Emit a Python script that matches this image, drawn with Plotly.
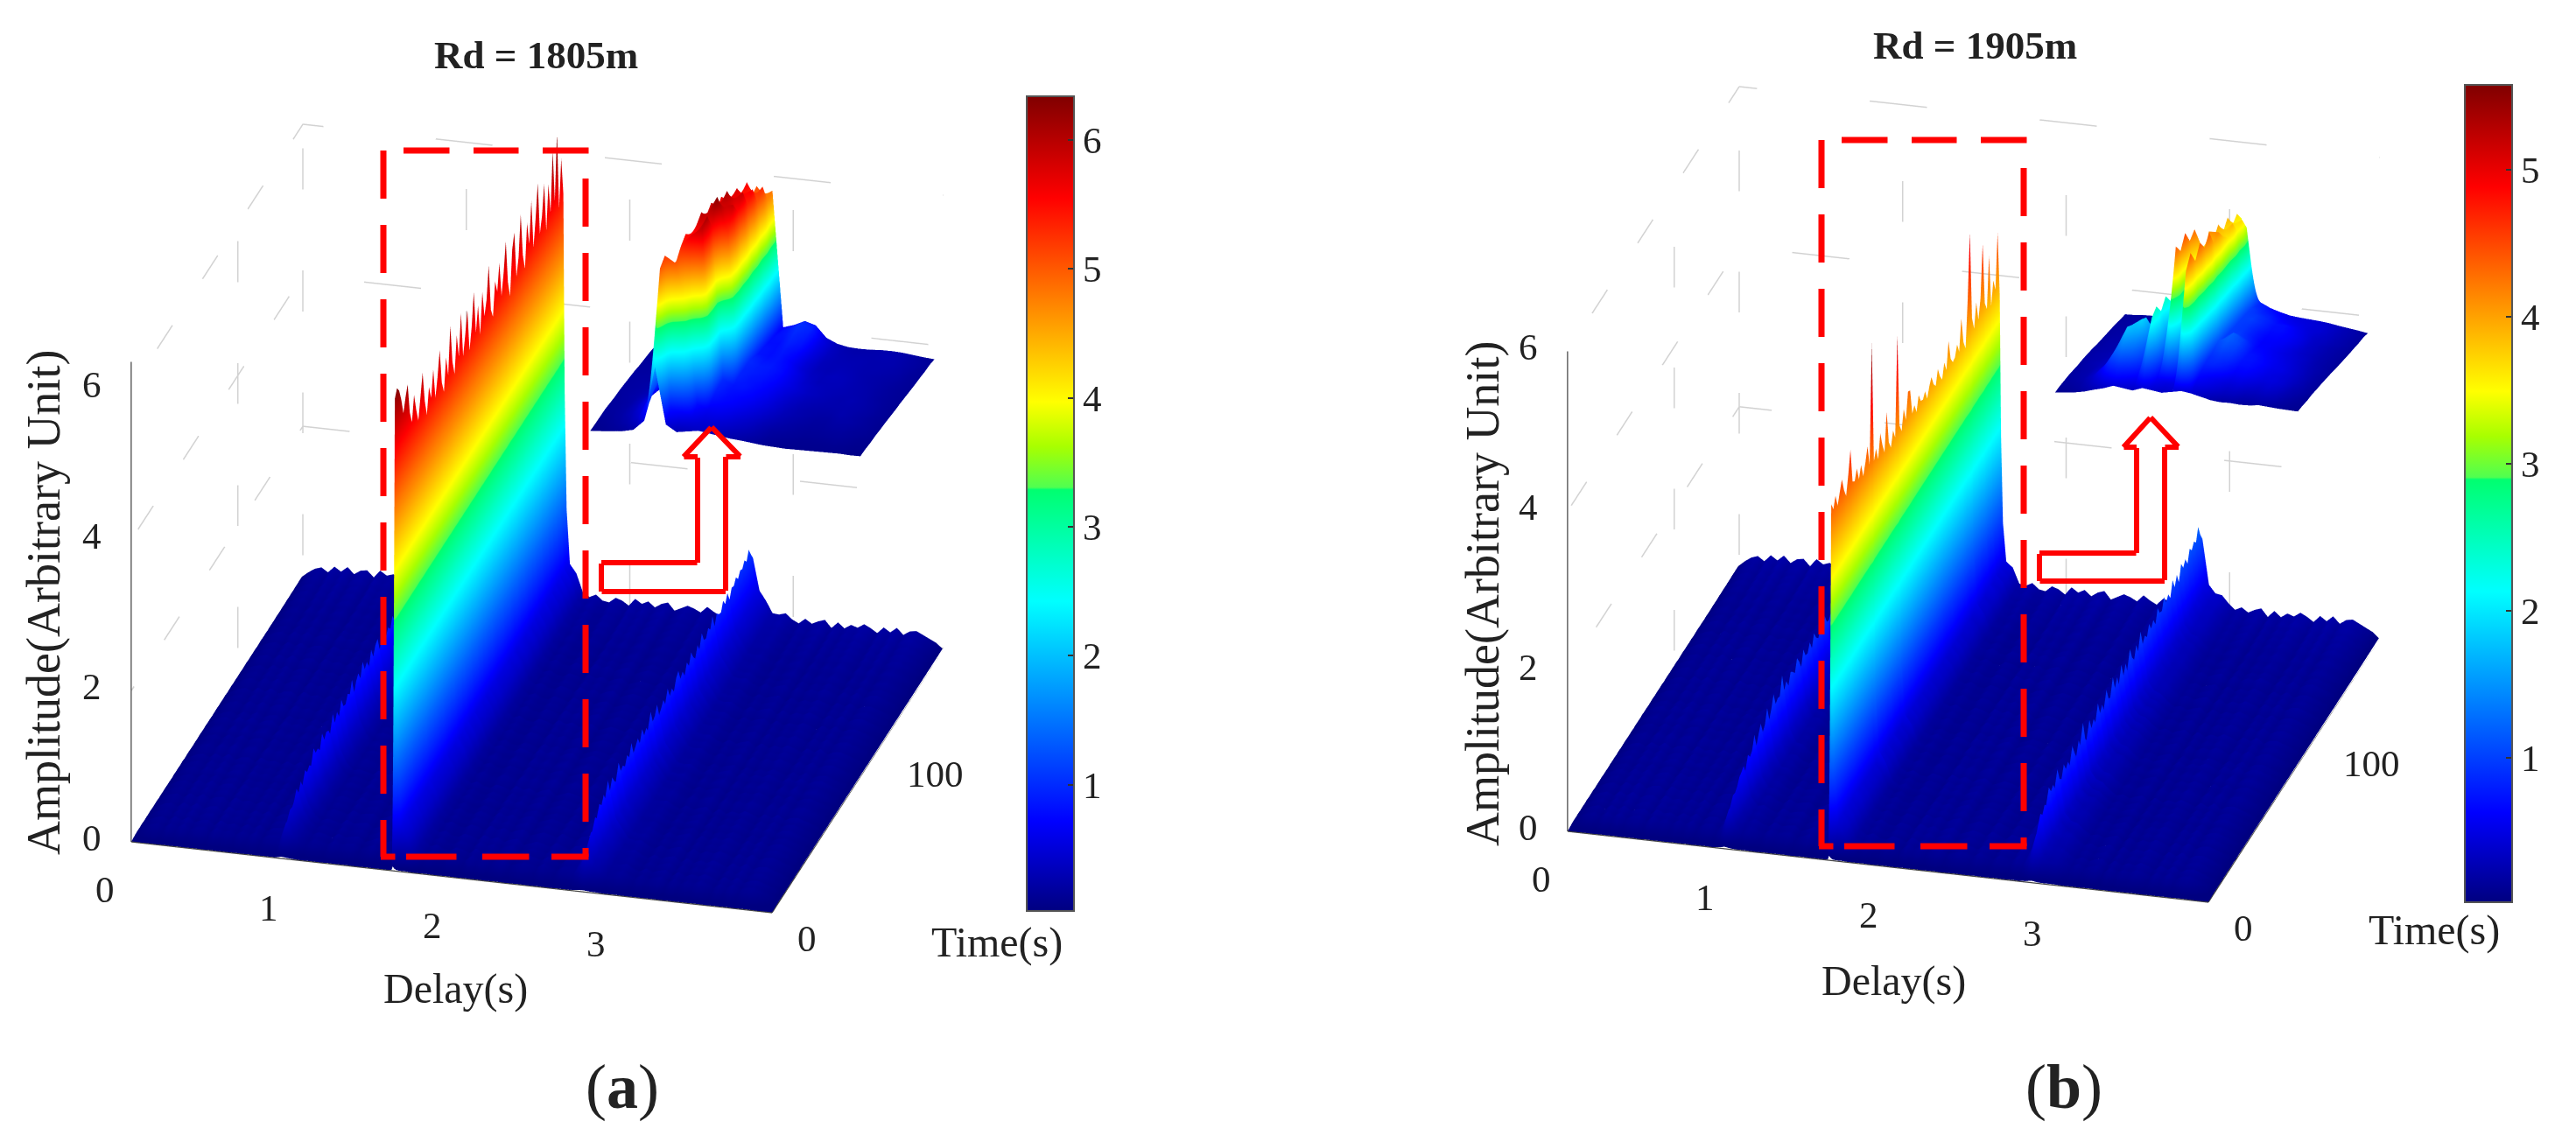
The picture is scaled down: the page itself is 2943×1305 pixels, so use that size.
import plotly.graph_objects as go

W, H = 2943, 1305
BODY = 8  # page margin around the figure
FONT = "Liberation Serif"
INK = "#222222"

# ---------- main surfaces: shared grids ----------
delay_ticks = [0, 1, 2, 3]
time_ticks = [0, 100]
amp_ticks = [0, 2, 4, 6]
cbar_ticks_a = [1, 2, 3, 4, 5, 6]
cbar_ticks_b = [1, 2, 3, 4, 5]
delay_max = 3.92
time_max = 161
zmax_a, zmax_b = 6.36, 6.0
clim_a, clim_b = (0.02, 6.34), (0.02, 5.58)

delay_s = [round(i * 0.04, 3) for i in range(40)] + [1.592, 1.60, 1.608, 1.62] + \
          [round(i * 0.04, 3) for i in range(41, 99)]
time_s = [2 * i for i in range(81)]

floor_delay = [
    .02, .07, .11, .13, .09, .15, .11, .16, .10, .14, .15, .09, .16, .12, .14, .10, .15, .11, .16, .09,
    .14, .15, .10, .13, .16, .11, .09, .15, .13, .10, .16, .12, .14, .15, .09, .12, .16, .10, .14, .12,
    .15, .13, .16, .10, .12, .15, .09, .13, .16, .11, .10, .15, .13, .09, .16, .12, .15, .10, .14, .16,
    .09, .12, .15, .13, .10, .16, .12, .09, .15, .13, .11, .16, .10, .14, .15, .09, .12, .16, .13, .10,
    .15, .11, .14, .16, .09, .15, .10, .14, .12, .16, .13, .09, .15, .11, .16, .10, .14, .15, .12, .09,
    .06, .01]
floor_time = [
    .05, .45, .8, 1.0, .9, 1.1, .85, 1.05, .95, 1.15,
    .9, 1.0, 1.1, .85, 1.05, .95, 1.1, .9, 1.0, .85,
    1.1, .95, 1.05, .9, 1.15, .85, 1.0, 1.1, .95, .9,
    1.05, .85, 1.1, 1.0, .9, 1.15, .95, 1.05, .85, 1.0,
    1.1, .9, 1.05, .95, 1.15, .85, 1.0, 1.1, .9, 1.05,
    .95, 1.1, .85, 1.0, 1.15, .9, 1.05, .95, 1.1, .85,
    1.0, 1.15, .95, 1.05, .9, 1.1, 1.0, .95, 1.15, 1.05,
    1.0, 1.2, 1.1, 1.25, 1.15, 1.3, 1.2, 1.4, 1.35, 1.5, 1.4]

# pulse shapes: factor at each delay column
main_pulse = {1.60: 1.0, 1.608: .5, 1.62: .22, 1.64: .08, 1.68: .05, 1.72: .02}
echo1_pulse = {-0.04: .12, 0.0: .8, 0.04: .28, 0.08: .13, 0.12: .05}
echo2_pulse = {-0.12: .04, -0.08: .08, -0.04: .22, 0.0: .8, 0.04: .32, 0.08: .18, 0.12: .11, 0.16: .06, 0.2: .03}
echo1_delay_a, echo2_delay_a = 0.92, 2.76
echo1_delay_b, echo2_delay_b = 0.96, 2.84

main_a = [.05, 6.15, 6.2, 6.1, 5.95, 5.7, 5.9, 6.0, 5.6, 5.4,
          5.75, 5.5, 5.3, 5.6, 5.85, 5.45, 5.2, 5.55, 5.35, 5.7,
          5.25, 5.5, 5.8, 5.35, 5.15, 5.6, 5.3, 5.9, 5.4, 5.2,
          5.65, 5.35, 5.85, 5.25, 5.5, 5.75, 5.2, 5.45, 5.9, 5.3,
          5.6, 5.2, 5.7, 5.35, 5.5, 5.95, 5.3, 5.15, 5.6, 5.4,
          5.75, 5.25, 5.55, 5.9, 5.3, 5.1, 5.65, 5.85, 5.2, 5.45,
          5.95, 5.35, 5.15, 5.7, 5.4, 5.9, 5.25, 5.6, 6.0, 5.3,
          5.5, 5.85, 5.2, 5.75, 5.35, 6.1, 5.4, 6.25, 5.2, 5.8, 5.3]
main_b = [.05, 4.35, 4.2, 4.3, 4.15, 4.25, 4.4, 4.2, 4.1, 4.3,
          4.6, 4.15, 4.1, 4.25, 4.05, 4.2, 4.0, 4.15, 4.3, 4.05,
          5.5, 4.0, 4.1, 3.95, 4.2, 4.05, 3.9, 4.35, 3.95, 3.85,
          4.0, 3.9, 5.1, 3.95, 3.85, 4.05, 3.9, 4.2, 4.2, 3.85,
          3.9, 3.8, 3.95, 3.85, 3.8, 3.9, 3.75, 3.85, 3.95, 3.8,
          3.75, 3.9, 3.8, 3.7, 3.85, 3.75, 4.05, 3.8, 3.7, 3.75,
          3.85, 3.7, 4.1, 3.75, 3.65, 4.2, 5.0, 3.9, 3.7, 4.0,
          3.75, 3.95, 4.6, 3.8, 3.7, 4.3, 3.65, 3.9, 3.75, 4.4, 3.6]
echo1_a = [.02, .2, .35, .3, .45, .4, .5, .6, .5, .6,
           .5, .7, .6, .7, .6, .85, .7, .75, .65, .9,
           .7, .8, .75, .65, .9, .75, .85, .7, .95, .8,
           .75, .9, .8, 1.0, .75, .85, .95, .8, 1.05, .85,
           .9, .8, 1.0, .85, .95, 1.05, .8, .9, 1.0, .85,
           .95, .85, 1.05, .9, .8, 1.0, .9, .85, 1.0, .9,
           .85, .95, 1.0, .85, .9, 1.05, .9, .85, .95, 1.0,
           .85, .9, 1.0, .85, .95, .9, 1.0, .85, .9, .95, .8]
echo2_a = [.02, .25, .5, .45, .65, .6, .8, .7, .9, .8,
           .95, .8, 1.05, .85, 1.0, .9, .8, 1.1, .9, .95,
           .85, 1.0, .9, 1.1, .85, .95, 1.0, .85, 1.05, .9,
           .95, .85, 1.1, .9, .95, 1.05, .85, .9, 1.0, .85,
           1.05, .9, .95, .85, 1.0, 1.1, .9, .95, .85, 1.0,
           .9, 1.05, .95, .85, 1.0, .9, 1.1, .95, .9, 1.05,
           .95, 1.1, .9, 1.05, 1.0, .95, 1.1, 1.0, 1.1, .95,
           1.1, 1.05, 1.15, 1.05, 1.15, 1.1, 1.2, 1.1, 1.25, 1.1, 1.0]
echo1_b = [.02, .2, .35, .3, .45, .4, .5, .55, .6, .6,
           .5, .7, .6, .7, .85, .65, .75, .9, .7, .8,
           .95, .75, .85, 1.05, .8, .9, .85, 1.1, .85, .95,
           .8, 1.0, .9, .85, 1.05, .9, .8, 1.0, .9, .85,
           .95, .85, 1.0, .9, .8, .95, .85, 1.0, .9, .85,
           .95, .85, .9, 1.0, .85, .9, .95, .85, 1.0, .9,
           .85, .95, .9, .85, 1.0, .9, .85, .95, .9, .85,
           1.0, .9, .85, .95, .9, .85, 1.0, .9, .85, .95, .8]
echo2_b = [.02, .3, .5, .45, .7, .6, .75, .65, .9, .75,
           .85, .7, .95, .8, .7, .9, .75, .85, .7, 1.0,
           .8, .7, .9, .75, 1.05, .8, .7, .95, .8, .9,
           .75, 1.05, .8, .9, .75, 1.0, .85, .8, 1.1, .85,
           .95, .8, 1.05, .85, .95, .8, 1.1, .9, .85, 1.0,
           .85, 1.1, .9, .95, .85, 1.05, .9, 1.0, .85, 1.1,
           .95, .9, 1.1, .95, 1.05, .9, 1.15, 1.0, 1.1, .95,
           1.2, 1.05, 1.15, 1.0, 1.2, 1.1, 1.2, 1.1, 1.3, 1.1, 1.0]


def build_surface(main, echo1, echo2, d1, d2):
    rows = []
    for i in range(len(time_s)):
        row = []
        for j, d in enumerate(delay_s):
            z = floor_delay[j] * floor_time[i]
            z += main[i] * main_pulse.get(d, 0.0)
            z += echo1[i] * echo1_pulse.get(round(d - d1, 3), 0.0)
            z += echo2[i] * echo2_pulse.get(round(d - d2, 3), 0.0)
            row.append(z)
        rows.append(row)
    return rows


surface_a = build_surface(main_a, echo1_a, echo2_a, echo1_delay_a, echo2_delay_a)
surface_b = build_surface(main_b, echo1_b, echo2_b, echo1_delay_b, echo2_delay_b)

# ---------- close-up surfaces (rows: time, columns: delay) ----------
inset_delay = [round(j * 0.04, 2) for j in range(26)]
inset_time = [round(i / 15, 3) for i in range(16)]
inset_a = [
    [.10, .12, .15, .18, .25, .55, 2.2, .50, .30, .35, .40, .35, .30, .25, .22, .18, .14, .12, .10, .10, .10, .10, .10, .10, .08, .08],
    [.12, .15, .20, .28, .45, .90, 5.0, .80, .70, .60, .50, .50, .45, .38, .32, .25, .18, .15, .14, .12, .12, .12, .13, .12, .10, .10],
    [.15, .18, .24, .35, .55, 1.1, 5.2, 5.0, 3.6, .80, .65, .65, .58, .48, .40, .30, .22, .20, .17, .15, .15, .16, .17, .15, .12, .10],
    [.18, .20, .25, .38, .60, 1.2, 1.1, 5.3, 5.7, 5.9, .85, .75, .70, .60, .50, .38, .30, .24, .20, .18, .18, .20, .20, .17, .15, .12],
    [.18, .20, .25, .38, .55, 1.0, 1.3, 5.5, 5.5, 6.1, .95, .80, .75, .70, .58, .46, .34, .28, .24, .20, .20, .24, .24, .20, .16, .12],
    [.18, .22, .26, .34, .48, .85, 1.4, 5.1, 6.0, 5.6, 1.0, .85, .85, .75, .65, .50, .38, .30, .26, .24, .24, .28, .24, .20, .16, .13],
    [.20, .22, .25, .30, .40, .65, 1.1, 2.2, 5.7, 6.3, 5.2, .95, .85, .80, .70, .55, .42, .34, .30, .28, .28, .28, .26, .22, .17, .13],
    [.20, .22, .24, .28, .36, .50, .75, 1.2, 5.9, 5.8, 5.9, .95, .90, .85, .75, .60, .48, .38, .34, .30, .28, .30, .26, .22, .17, .13],
    [.20, .22, .22, .26, .32, .42, .58, .90, 5.4, 6.1, 5.5, 1.0, .90, .88, .78, .60, .45, .38, .34, .32, .30, .28, .25, .20, .17, .14],
    [.20, .20, .22, .24, .28, .35, .45, .70, 5.7, 5.6, 5.9, .95, .85, .85, .75, .58, .42, .34, .34, .34, .30, .28, .24, .20, .17, .14],
    [.18, .20, .22, .22, .26, .30, .38, .50, 5.2, 5.8, 5.3, .85, .80, .85, .70, .50, .38, .34, .36, .34, .30, .26, .24, .20, .17, .14],
    [.18, .20, .20, .22, .24, .26, .32, .42, 5.3, 5.4, 5.6, .85, .80, .88, .75, .50, .35, .32, .34, .32, .28, .26, .24, .22, .18, .14],
    [.18, .18, .20, .20, .22, .24, .28, .36, 4.8, 5.6, 5.0, .80, .80, .95, .85, .55, .35, .32, .32, .30, .28, .28, .26, .24, .18, .15],
    [.16, .18, .18, .20, .20, .22, .26, .32, 4.9, 4.9, 5.3, .80, .85, 1.0, .90, .58, .38, .32, .30, .30, .28, .28, .28, .24, .20, .15],
    [.16, .16, .18, .18, .20, .20, .24, .28, 4.4, 5.1, 4.7, .75, .88, 1.05, .95, .58, .38, .30, .28, .28, .28, .30, .28, .24, .20, .17],
    [.14, .16, .16, .16, .18, .20, .22, .24, .70, 4.6, 4.8, .70, .80, .95, .85, .50, .35, .28, .26, .26, .28, .28, .26, .22, .18, .15],
]
inset_b = [
    [.10, .12, .15, .20, .28, .35, .45, .40, .35, .45, .40, .35, .40, .45, .40, .32, .24, .20, .20, .17, .17, .20, .17, .14, .12, .10],
    [.14, .16, .20, .30, .45, .70, .85, .75, .60, 1.4, .60, .50, .50, 4.0, .55, .50, .42, .35, .35, .28, .28, .30, .28, .20, .15, .12],
    [.16, .20, .25, .38, .65, 1.1, 1.4, 1.2, .85, 2.3, .75, 2.8, .70, 4.4, .70, .60, .52, .45, .48, .42, .38, .42, .35, .25, .18, .12],
    [.18, .22, .26, .38, .65, 1.2, 1.8, 1.5, 1.0, 2.5, .90, 4.4, .85, 4.0, .85, .85, .75, .60, .62, .55, .48, .48, .42, .28, .22, .15],
    [.18, .22, .26, .36, .58, 1.0, 1.7, 1.9, 1.1, 2.2, 1.0, 4.1, .95, 4.4, .90, .95, .90, .70, .70, .62, .52, .48, .42, .32, .22, .15],
    [.18, .24, .28, .34, .50, .85, 1.3, 1.8, 1.1, 2.5, 1.2, 4.5, 1.0, 4.1, 1.0, 1.1, 1.0, .75, .72, .65, .55, .52, .42, .32, .22, .16],
    [.20, .24, .26, .32, .42, .68, 1.0, 1.4, 1.2, 2.2, 1.3, 4.1, 2.8, 4.4, 1.1, 1.2, 1.05, .75, .70, .62, .55, .48, .40, .30, .22, .16],
    [.20, .24, .26, .30, .36, .55, .85, 1.1, 1.3, 2.4, 1.3, 4.3, 3.6, 3.9, 1.0, 1.2, 1.0, .70, .65, .58, .52, .45, .36, .28, .22, .16],
    [.20, .22, .24, .28, .32, .42, .62, .85, 1.2, 2.1, 1.4, 2.4, 4.1, 4.1, 1.0, 1.0, .85, .65, .62, .55, .48, .42, .35, .26, .20, .15],
    [.18, .22, .24, .26, .30, .36, .46, .62, .95, 1.3, 1.4, 1.6, 3.7, 3.8, 1.0, .95, .78, .62, .62, .58, .48, .38, .32, .25, .20, .15],
    [.18, .22, .22, .24, .28, .32, .38, .50, .70, .95, 1.1, 1.4, 4.0, 3.6, 1.0, .95, .78, .65, .65, .62, .52, .38, .32, .25, .20, .15],
    [.18, .20, .22, .22, .26, .28, .34, .42, .55, .72, .95, 1.3, 3.6, 3.9, 1.0, 1.0, .85, .70, .70, .62, .52, .38, .32, .25, .20, .15],
    [.18, .20, .20, .22, .24, .26, .30, .36, .46, .60, .80, 1.2, 3.9, 3.5, 1.0, .95, .85, .72, .70, .58, .48, .38, .34, .27, .22, .16],
    [.18, .18, .20, .20, .22, .24, .26, .32, .38, .50, .72, 1.1, 3.5, 3.7, 1.0, .85, .78, .65, .58, .52, .45, .42, .35, .28, .22, .16],
    [.16, .18, .18, .20, .20, .22, .24, .28, .34, .44, .62, 1.0, 3.7, 3.3, .90, .78, .68, .58, .52, .48, .45, .42, .35, .28, .23, .18],
    [.16, .16, .18, .18, .20, .20, .22, .26, .30, .38, .55, .85, 3.4, 1.1, .85, .70, .60, .52, .48, .45, .42, .38, .32, .27, .22, .16],
]

jet = [[0, "#000080"], [0.11, "#0000ff"], [0.38, "#00ffff"], [0.517, "#00ff70"], [0.52, "#50ff50"],
       [0.57, "#a8ff00"], [0.625, "#ffff00"], [0.875, "#ff0000"], [1, "#800000"]]
FLAT = dict(ambient=1, diffuse=0, specular=0, roughness=1, fresnel=0)
EYE_LEN = 1.6
ZOOM = 1.378  # box size that gives the reference's on-screen scale
FIG_W, FIG_H = W - 2 * BODY, H - 2 * BODY


def px_x(x):
    return (x - BODY) / FIG_W


def px_y(y):
    return 1 - (y - BODY) / FIG_H


def domain(cx, cy, d):
    return dict(x=[px_x(cx - d / 2), px_x(cx + d / 2)], y=[px_y(cy + d / 2), px_y(cy - d / 2)])


def scene(cx, cy, d, xr, yr, zr, aspect, eye, annotations=()):
    ax = dict(visible=False, showspikes=False)
    return dict(domain=domain(cx, cy, d),
                xaxis=dict(range=xr, **ax), yaxis=dict(range=yr, **ax), zaxis=dict(range=zr, **ax),
                aspectmode="manual",
                aspectratio=dict(x=aspect[0] * ZOOM, y=aspect[1] * ZOOM, z=aspect[2] * ZOOM),
                camera=dict(eye=dict(x=eye[0] * EYE_LEN, y=eye[1] * EYE_LEN, z=eye[2] * EYE_LEN),
                            center=dict(x=0, y=0, z=0), up=dict(x=0, y=0, z=1),
                            projection=dict(type="orthographic")),
                bgcolor="rgba(0,0,0,0)", annotations=list(annotations))


def polyline(xs, ys, zs, color, width, dash, name_scene):
    return go.Scatter3d(x=xs, y=ys, z=zs, mode="lines", scene=name_scene, showlegend=False, hoverinfo="skip",
                        line=dict(color=color, width=width, dash=dash))


def frame_traces(zmax, name_scene):
    traces = []
    gx, gy, gz = [], [], []
    for d in delay_ticks[1:] + [0]:
        gx += [d, d, None]; gy += [time_max, time_max, None]; gz += [0, zmax, None]
    gx += [0, 0, None]; gy += [time_ticks[1], time_ticks[1], None]; gz += [0, zmax, None]
    for z in amp_ticks:
        gx += [0, 0, delay_max, None]; gy += [0, time_max, time_max, None]; gz += [z, z, z, None]
    traces.append(polyline(gx, gy, gz, "#d2d2d2", 3, "dash", name_scene))
    ax, ay, az = [0, 0, None, 0, delay_max, None, delay_max, delay_max, None], \
                 [0, 0, None, 0, 0, None, 0, time_max, None], [0, zmax, None, 0, 0, None, 0, 0, None]
    for d in delay_ticks:
        ax += [d, d, None]; ay += [0, -8.3, None]; az += [0, 0, None]
    for t in time_ticks:
        ax += [delay_max, delay_max + .1, None]; ay += [t, t, None]; az += [0, 0, None]
    for z in amp_ticks:
        ax += [0, -.1, None]; ay += [0, 0, None]; az += [z, z, None]
    traces.append(polyline(ax, ay, az, "#444444", 2.5, "solid", name_scene))
    return traces


def tick_annotations():
    out = []
    f = dict(family=FONT, size=43, color=INK)
    for d in delay_ticks:
        out.append(dict(x=d, y=0, z=0, text=str(d), showarrow=False, xshift=-29, yshift=-55, font=f))
    for t in time_ticks:
        out.append(dict(x=delay_max, y=t, z=0, text=str(t), showarrow=False, xshift=41 if t == 0 else 65,
                        yshift=-30, font=f))
    for z in amp_ticks:
        out.append(dict(x=0, y=0, z=z, text=str(z), showarrow=False, xshift=-44, yshift=4, font=f))
    return out


def colorbar(x0, y_top, y_bot, ticks):
    return dict(x=px_x(x0), xanchor="left", xpad=0, y=px_y(y_top), yanchor="top", ypad=0,
                len=y_bot - y_top, lenmode="pixels", thickness=54, thicknessmode="pixels",
                tickvals=ticks, ticks="inside", ticklen=8, tickcolor="#333333", tickwidth=2,
                tickfont=dict(family=FONT, size=43, color=INK), outlinecolor="#555555", outlinewidth=2)


fig = go.Figure()
# main scenes
fig.add_trace(go.Surface(x=delay_s, y=time_s, z=surface_a, scene="scene", colorscale=jet,
                         cmin=clim_a[0], cmax=clim_a[1], lighting=FLAT, hoverinfo="skip",
                         colorbar=colorbar(1173, 110, 1041, cbar_ticks_a)))
fig.add_traces(frame_traces(zmax_a, "scene"))
fig.add_trace(go.Surface(x=delay_s, y=time_s, z=surface_b, scene="scene2", colorscale=jet,
                         cmin=clim_b[0], cmax=clim_b[1], lighting=FLAT, hoverinfo="skip",
                         colorbar=colorbar(2816, 97, 1031, cbar_ticks_b)))
fig.add_traces(frame_traces(zmax_b, "scene2"))
# close-ups
fig.add_trace(go.Surface(x=inset_delay, y=inset_time, z=inset_a, scene="scene3", colorscale=jet,
                         cmin=clim_a[0], cmax=clim_a[1], lighting=FLAT, hoverinfo="skip", showscale=False))
fig.add_trace(go.Surface(x=inset_delay, y=inset_time, z=inset_b, scene="scene4", colorscale=jet,
                         cmin=clim_b[0], cmax=clim_b[1], lighting=FLAT, hoverinfo="skip", showscale=False))


def text(x, y, s, size, angle=0):
    return dict(xref="paper", yref="paper", x=px_x(x), y=px_y(y), text=s, showarrow=False, xanchor="center",
                yanchor="middle", textangle=angle, font=dict(family=FONT, size=size, color=INK))


def seg(x0, y0, x1, y1, width):
    return dict(xref="paper", yref="paper", x=px_x(x0), y=px_y(y0), ax=x1 - x0, ay=y1 - y0, text=" ",
                showarrow=True, arrowhead=0, arrowwidth=width, arrowcolor="#ff0000", standoff=0,
                font=dict(size=1), borderpad=0)


def dashed_box(dx, dy):
    out = []
    for a, b in [(172, 228), (257, 313), (342, 398), (427, 483), (512, 568), (597, 653), (682, 738), (767, 823),
                 (852, 908), (937, 980)]:
        out.append(seg(438 + dx, a + dy, 438 + dx, b + dy, 7))
    for a, b in [(204, 260), (289, 345), (374, 430), (459, 515), (544, 600), (629, 685), (714, 770), (799, 855),
                 (884, 940), (969, 980)]:
        out.append(seg(669 + dx, a + dy, 669 + dx, b + dy, 7))
    for a, b in [(461, 514), (541, 593), (620, 673)]:
        out.append(seg(a + dx, 172 + dy, b + dx, 172 + dy, 7))
    for a, b in [(435, 452), (464, 522), (551, 605), (630, 673)]:
        out.append(seg(a + dx, 979 + dy, b + dx, 979 + dy, 7))
    return out


def arrow(points):
    return [seg(p[0], p[1], q[0], q[1], 6) for p, q in zip(points, points[1:])]


arrow_a = [(687, 643), (797, 643), (797, 522), (781, 522), (813, 488), (846, 522), (829, 522), (829, 676), (687, 676),
           (687, 643)]
arrow_b = [(2330, 632), (2441, 632), (2441, 511), (2426, 511), (2457, 477), (2489, 511), (2473, 511), (2473, 664),
           (2330, 664), (2330, 632)]

annotations = [
    text(612, 63, "<b>Rd = 1805m</b>", 45), text(2256, 52, "<b>Rd = 1905m</b>", 45),
    text(50, 689, "Amplitude(Arbitrary Unit)", 54, -90), text(1694, 678, "Amplitude(Arbitrary Unit)", 54, -90),
    text(520, 1130, "Delay(s)", 48), text(2163, 1121, "Delay(s)", 48),
    text(1139, 1077, "Time(s)", 48), text(2781, 1063, "Time(s)", 48),
    text(711, 1242, "(<b>a</b>)", 72), text(2358, 1242, "(<b>b</b>)", 72),
] + dashed_box(0, 0) + dashed_box(1643, -12) + arrow(arrow_a) + arrow(arrow_b)

EYE_MAIN = (.2357, -.8797, .413)
fig.update_layout(
    width=FIG_W, height=FIG_H, margin=dict(l=0, r=0, t=0, b=0), paper_bgcolor="white", showlegend=False,
    scene=scene(613.5, 576.5, 1100, [0, delay_max], [0, time_max], [0, zmax_a], (1, 1, .795), EYE_MAIN,
                tick_annotations()),
    scene2=scene(2254.5, 564.5, 1100, [0, delay_max], [0, time_max], [0, zmax_b], (1, 1, .795), EYE_MAIN,
                 tick_annotations()),
    scene3=scene(870.5, 336, 464, [0, 1], [0, 1], [0, zmax_a], (1, 1.025, .80), (.2432, -.9077, .342)),
    scene4=scene(2526.5, 308, 416.5, [0, 1], [0, 1], [0, zmax_b], (1, 1.077, .808), (.2475, -.9235, .292)),
    annotations=annotations,
)
fig.write_html("out.html")
